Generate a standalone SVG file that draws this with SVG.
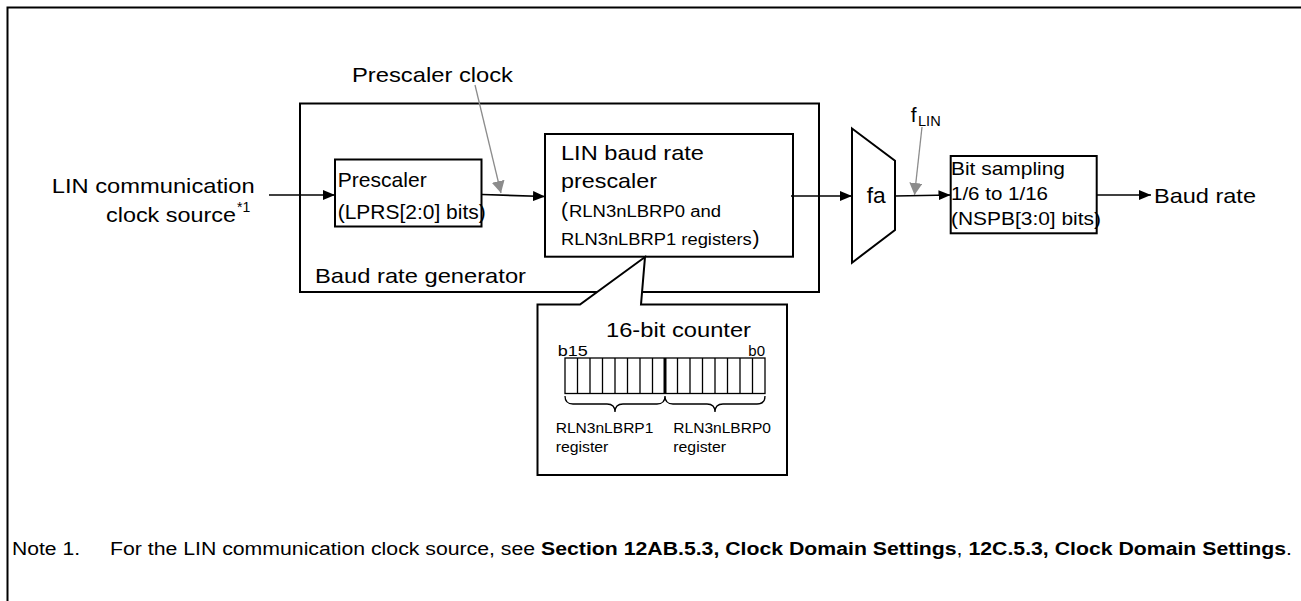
<svg xmlns="http://www.w3.org/2000/svg" width="1301" height="601" viewBox="0 0 1301 601">
<style>
text{font-family:"Liberation Sans",Arial,sans-serif;fill:#000}
.big{font-size:21px}
.mid{font-size:16px}
.sm{font-size:14px}
.box{fill:#fff;stroke:#000;stroke-width:2}
.ln{fill:none;stroke:#000;stroke-width:1.6}
.gl{fill:none;stroke:#8c8c8c;stroke-width:1.3}
</style>
<defs>
<marker id="ah" viewBox="0 0 12 10" refX="12" refY="5" markerWidth="12" markerHeight="10" markerUnits="userSpaceOnUse" orient="auto"><path d="M0,0 L12,5 L0,10 z" fill="#000"/></marker>
<marker id="gh" viewBox="0 0 12 13" refX="12" refY="6.5" markerWidth="12" markerHeight="13" markerUnits="userSpaceOnUse" orient="auto"><path d="M0,0 L12,6.5 L0,13 z" fill="#8c8c8c"/></marker>
</defs>
<rect width="1301" height="601" fill="#fff"/>
<path d="M7.5,601 V7.5 H1301" fill="none" stroke="#000" stroke-width="2"/>

<g id="brg">
<rect class="box" x="300" y="103.5" width="519" height="188.5"/>
<text class="big" x="315" y="283" textLength="211" lengthAdjust="spacingAndGlyphs">Baud rate generator</text>
</g>

<g id="prescaler">
<rect class="box" x="335" y="159.5" width="146.5" height="67"/>
<text class="big" x="337.7" y="186.7" textLength="89" lengthAdjust="spacingAndGlyphs">Prescaler</text>
<text class="big" x="337.7" y="219.3" textLength="148" lengthAdjust="spacingAndGlyphs">(LPRS[2:0] bits)</text>
</g>

<g id="linbrp">
<rect class="box" x="545" y="134" width="248" height="122.7"/>
<text class="big" x="561" y="160" textLength="143" lengthAdjust="spacingAndGlyphs">LIN baud rate</text>
<text class="big" x="561" y="188" textLength="96" lengthAdjust="spacingAndGlyphs">prescaler</text>
<text class="big" x="561" y="216.7">(</text>
<text class="mid" x="569" y="216.7" textLength="152" lengthAdjust="spacingAndGlyphs">RLN3nLBRP0 and</text>
<text class="mid" x="561" y="245" textLength="190.7" lengthAdjust="spacingAndGlyphs">RLN3nLBRP1 registers</text>
<text class="big" x="752.5" y="245">)</text>
</g>

<g id="fa">
<polygon points="852,128.5 895,160.7 895,230 852,262.7" fill="#fff" stroke="#000" stroke-width="2"/>
<text x="866.7" y="203.3" style="font-size:22px" textLength="19" lengthAdjust="spacingAndGlyphs">fa</text>
</g>

<g id="bitsampling">
<rect class="box" x="950.7" y="156" width="146" height="77.3"/>
<text x="951" y="175" style="font-size:19px" textLength="114" lengthAdjust="spacingAndGlyphs">Bit sampling</text>
<text x="951" y="200" style="font-size:19px" textLength="97" lengthAdjust="spacingAndGlyphs">1/6 to 1/16</text>
<text x="951" y="225" style="font-size:19px" textLength="150" lengthAdjust="spacingAndGlyphs">(NSPB[3:0] bits)</text>
</g>

<g id="counter">
<polygon points="537.5,304.5 580,304.5 645,257 641,304.5 787,304.5 787,475 537.5,475" fill="#fff" stroke="#000" stroke-width="2"/>
<text class="big" x="606" y="336.7" textLength="145" lengthAdjust="spacingAndGlyphs">16-bit counter</text>
<text x="557.7" y="356" style="font-size:15px" textLength="30" lengthAdjust="spacingAndGlyphs">b15</text>
<text x="765" y="356" style="font-size:15px" text-anchor="end">b0</text>
<rect x="565" y="358" width="200" height="35.5" fill="none" stroke="#000" stroke-width="1.3"/>
<path d="M577.5,358V393.5M590,358V393.5M602.5,358V393.5M615,358V393.5M627.5,358V393.5M640,358V393.5M652.5,358V393.5M677.5,358V393.5M690,358V393.5M702.5,358V393.5M715,358V393.5M727.5,358V393.5M740,358V393.5M752.5,358V393.5" stroke="#000" stroke-width="1.3"/>
<path d="M665,358V393.5" stroke="#000" stroke-width="3"/>
<path d="M565,396 q0,8 8,8 H607 q8,0 8,8 q0,-8 8,-8 H657 q8,0 8,-8 M665,396 q0,8 8,8 H707 q8,0 8,8 q0,-8 8,-8 H757 q8,0 8,-8" fill="none" stroke="#000" stroke-width="1.3"/>
<text class="sm" x="555.7" y="432.7" textLength="97.7" lengthAdjust="spacingAndGlyphs">RLN3nLBRP1</text>
<text class="sm" x="555.7" y="451.7" textLength="52.7" lengthAdjust="spacingAndGlyphs">register</text>
<text class="sm" x="673.3" y="432.7" textLength="97.7" lengthAdjust="spacingAndGlyphs">RLN3nLBRP0</text>
<text class="sm" x="673.3" y="451.7" textLength="52.7" lengthAdjust="spacingAndGlyphs">register</text>
</g>

<g id="labels">
<text class="big" x="51.7" y="193.3" textLength="203" lengthAdjust="spacingAndGlyphs">LIN communication</text>
<text class="big" x="106" y="221.7" textLength="130" lengthAdjust="spacingAndGlyphs">clock source</text>
<text x="237" y="212" style="font-size:14px">*1</text>
<text class="big" x="352" y="82" textLength="161" lengthAdjust="spacingAndGlyphs">Prescaler clock</text>
<text class="big" x="910.7" y="121.7">f</text>
<text class="sm" x="918" y="125.5" textLength="22.7" lengthAdjust="spacingAndGlyphs">LIN</text>
<text class="big" x="1154" y="203.3" textLength="102" lengthAdjust="spacingAndGlyphs">Baud rate</text>
</g>

<g id="connectors">
<path class="ln" d="M269,195 H335" marker-end="url(#ah)"/>
<path class="ln" d="M482,194.5 L545,196.5" marker-end="url(#ah)"/>
<path class="ln" d="M791,196 H852" marker-end="url(#ah)"/>
<path class="ln" d="M895,196 L950.5,195" marker-end="url(#ah)"/>
<path class="ln" d="M1097,195 H1151" marker-end="url(#ah)"/>
<path class="gl" d="M475,85 L501,193" marker-end="url(#gh)"/>
<path class="gl" d="M922,127 L914.5,195" marker-end="url(#gh)"/>
</g>

<g id="note">
<text x="12" y="555" style="font-size:18px" textLength="68" lengthAdjust="spacingAndGlyphs">Note 1.</text>
<text x="110" y="555" style="font-size:18px" textLength="1182" lengthAdjust="spacingAndGlyphs">For the LIN communication clock source, see <tspan font-weight="bold">Section 12AB.5.3, Clock Domain Settings</tspan>, <tspan font-weight="bold">12C.5.3, Clock Domain Settings</tspan>.</text>
</g>
</svg>
